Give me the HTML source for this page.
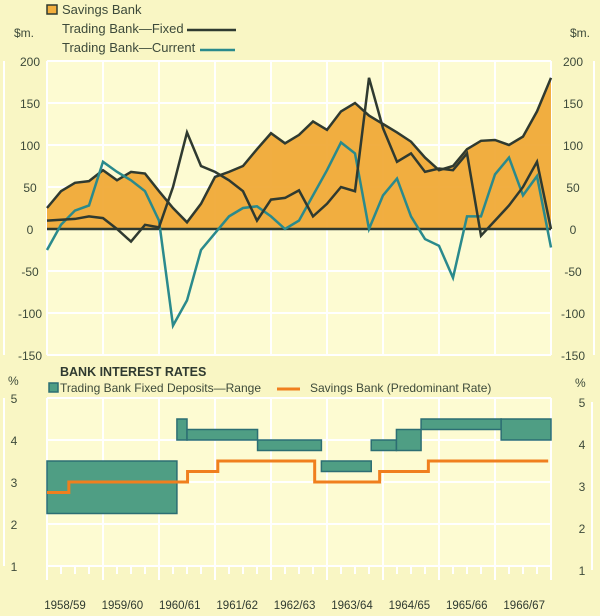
<!DOCTYPE html>
<html><head><meta charset="utf-8"><style>
body{margin:0;background:#f9f6c4;}
svg{display:block;font-family:"Liberation Sans",sans-serif;}
</style></head><body>
<svg id="c" width="600" height="616" viewBox="0 0 600 616"></svg>
<script>
const savings=[25,45,55,57,70,58,68,66,45,25,8,30,62,68,75,95,114,102,112,128,118,140,150,135,125,115,104,85,70,75,95,105,106,100,110,140,180];
const fixed=[10,11,12,15,13,0,-15,5,2,50,115,75,68,58,45,10,35,37,46,15,30,50,45,180,120,80,90,68,72,70,90,-8,10,28,50,80,0];
const current=[-25,5,22,28,80,68,58,45,10,-115,-85,-25,-5,15,25,27,15,0,10,40,70,103,90,0,40,60,15,-12,-20,-58,15,15,65,85,40,63,-22];
const topTicks=[200,150,100,50,0,-50,-100,-150];
const years=["1958/59","1959/60","1960/61","1961/62","1962/63","1963/64","1964/65","1965/66","1966/67"];
const bandStart=[0,2.32,2.5,3.76,4.9,5.79,6.24,6.68,8.11];
const bandEnd=[2.32,2.5,3.76,4.9,5.79,6.24,6.68,8.11,9];
const bandLow=[2.25,4,4,3.75,3.25,3.75,3.75,4.25,4];
const bandHigh=[3.5,4.5,4.25,4,3.5,4,4.25,4.5,4.5];
const rateBreaks=[0,0.39,2.51,3.05,4.78,5.94,6.81,8.95];
const rateValues=[2.75,3,3.25,3.5,3,3.25,3.5];
const rateTicks=[5,4,3,2,1];

const svg=document.getElementById('c');const NS='http://www.w3.org/2000/svg';
function el(t,a,txt){const e=document.createElementNS(NS,t);for(const k in a)e.setAttribute(k,a[k]);if(txt!==undefined)e.textContent=txt;svg.appendChild(e);return e;}
const L=47,R=551,YW=(R-L)/9;
const xq=i=>L+i*(R-L)/36;
const yT=v=>229-v*0.84;
const xY=t=>L+t*YW;
const yB=v=>398+(5-v)*42;

let e=el('rect',{x:L,y:yT(200),width:R-L,height:yT(-150)-yT(200),fill:'#fdfbd2'});

e=el('rect',{x:L,y:yB(5),width:R-L,height:yB(1)-yB(5),fill:'#fdfbd2'});

topTicks.forEach(v=>{
 e=el('line',{x1:L,x2:R,y1:yT(v),y2:yT(v),stroke:'#fff',"stroke-width":2});
 
 e=el('text',{x:30,y:yT(v)+5,"text-anchor":"middle","font-size":12,fill:'#3d4a3a'},v);
 
 e=el('text',{x:573,y:yT(v)+5,"text-anchor":"middle","font-size":12,fill:'#3d4a3a'},v);
 
});
for(let i=0;i<=9;i++){
 e=el('line',{x1:xY(i),x2:xY(i),y1:yT(200),y2:yT(-150),stroke:'#fff',"stroke-width":2});
 
 e=el('line',{x1:xY(i),x2:xY(i),y1:yB(5),y2:yB(1),stroke:'#fff',"stroke-width":2});
 
}
rateTicks.forEach(v=>{
 e=el('line',{x1:L,x2:R,y1:yB(v),y2:yB(v),stroke:'#fff',"stroke-width":2});
 
 e=el('text',{x:14,y:yB(v)+5,"text-anchor":"middle","font-size":12,fill:'#3d4a3a'},v);
 
 e=el('text',{x:582,y:yB(v)+9,"text-anchor":"middle","font-size":12,fill:'#3d4a3a'},v);
 
});
[[4,yT(200),yT(-150)],[594,yT(200),yT(-150)],[4,yB(5),yB(1)],[592,yB(5)+4,yB(1)+4]].forEach(a=>{
 e=el('line',{x1:a[0],x2:a[0],y1:a[1],y2:a[2],stroke:'#fff',"stroke-width":2});
 
});
let d='M'+xq(0)+','+yT(0);savings.forEach((v,i)=>d+=' L'+xq(i)+','+yT(v));d+=' L'+xq(36)+','+yT(0)+'Z';
e=el('path',{d:d,fill:'#f0aa38',"fill-opacity":0.95});

e=el('line',{x1:L,x2:R,y1:yT(0),y2:yT(0),stroke:'#2f3a30',"stroke-width":2.5});

e=el('polyline',{points:savings.map((v,i)=>xq(i)+','+yT(v)).join(' '),fill:'none',stroke:'#2f3a30',"stroke-width":2.5});

e=el('polyline',{points:current.map((v,i)=>xq(i)+','+yT(v)).join(' '),fill:'none',stroke:'#2a8a8c',"stroke-width":2.5});

e=el('polyline',{points:fixed.map((v,i)=>xq(i)+','+yT(v)).join(' '),fill:'none',stroke:'#2f3a30',"stroke-width":2.5});

bandStart.forEach((s,i)=>{
 e=el('rect',{x:xY(s),y:yB(bandHigh[i]),width:xY(bandEnd[i])-xY(s),height:yB(bandLow[i])-yB(bandHigh[i]),fill:'#4f9e84',stroke:'#2c6e73',"stroke-width":1.5});
 
});
let p='';rateValues.forEach((v,i)=>{p+=xY(rateBreaks[i])+','+yB(v)+' '+xY(rateBreaks[i+1])+','+yB(v)+' ';});
e=el('polyline',{points:p,fill:'none',stroke:'#f07f1e',"stroke-width":3});

for(let i=0;i<=36;i++){
 e=el('line',{x1:xq(i),x2:xq(i),y1:yB(1),y2:yB(1)+(i%4==0?14:8),stroke:'#fff',"stroke-width":2});
 
}
years.forEach((y,i)=>{
 e=el('text',{x:65+i*57.4,y:609,"text-anchor":"middle","font-size":11.5,fill:'#2f3a30'},y);
 
});
const T=(x,y,t,n,extra)=>{const a=Object.assign({x:x,y:y,"font-size":13,fill:'#3d4a3a'},extra||{});const q=el('text',a,t);};
T(14,37,'$m.','left-unit-label',{"font-size":12});T(570,37,'$m.','right-unit-label',{"font-size":12});
e=el('rect',{x:47,y:5,width:10,height:9,fill:'#f2ae3c',stroke:'#2f3a30',"stroke-width":1.5});

T(62,14,'Savings Bank','legend-savings-label');
T(62,33,'Trading Bank\u2014Fixed','legend-fixed-label');
e=el('line',{x1:187,x2:236,y1:30,y2:30,stroke:'#2f3a30',"stroke-width":2.5});

T(62,52,'Trading Bank\u2014Current','legend-current-label');
e=el('line',{x1:200,x2:235,y1:50,y2:50,stroke:'#2a8a8c',"stroke-width":2.5});

T(60,376,'BANK INTEREST RATES','bottom-chart-title',{"font-weight":"bold","font-size":12.5,fill:'#2f3a30'});
T(8,385,'%','left-percent-label',{"font-size":12});T(575,387,'%','right-percent-label',{"font-size":12});
e=el('rect',{x:49,y:383,width:9,height:9,fill:'#4f9e84',stroke:'#2c6e73',"stroke-width":1.5});

T(60,392,'Trading Bank Fixed Deposits\u2014Range','legend-range-label',{"font-size":12});
e=el('line',{x1:277,x2:300,y1:389,y2:389,stroke:'#f07f1e',"stroke-width":3});

T(310,392,'Savings Bank (Predominant Rate)','legend-savings-rate-label',{"font-size":12});
</script>
</body></html>
